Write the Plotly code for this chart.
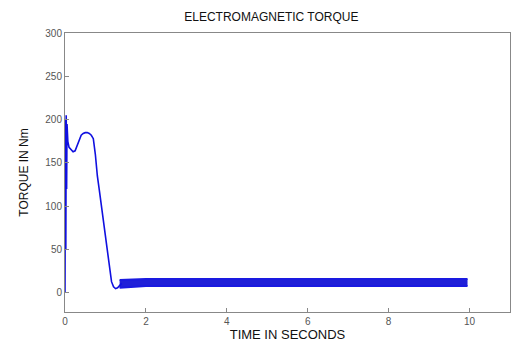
import plotly.graph_objects as go

# Transient part of the electromagnetic torque
t_transient = [0, 0.01, 0.02, 0.03, 0.04, 0.05, 0.07, 0.1, 0.15, 0.2, 0.25, 0.3, 0.35,
               0.4, 0.45, 0.5, 0.55, 0.6, 0.65, 0.7, 0.75, 0.78, 0.8, 0.85, 0.9, 0.95,
               1.0, 1.05, 1.1, 1.15, 1.2, 1.25, 1.3, 1.35, 1.4]
torque_transient = [0, 200, 50, 205, 120, 195, 175, 168, 165, 163, 164, 170, 177,
                    182, 184, 185, 185, 184, 182, 178, 160, 142, 135, 118, 100, 83,
                    65, 45, 25, 13, 7, 5, 6, 9, 11]

# Steady-state band (dense ripple between lower and upper levels)
t_steady = [1.35, 2, 3, 4, 5, 6, 7, 8, 9, 9.95]
torque_upper = [15, 16, 16, 16, 16, 16, 16, 16, 16, 16]
torque_lower = [6, 8, 8, 8, 8, 8, 8, 8, 8, 8]

x_ticks = [0, 2, 4, 6, 8, 10]
y_ticks = [0, 50, 100, 150, 200, 250, 300]

fig = go.Figure()
fig.add_trace(go.Scatter(x=t_steady, y=torque_lower, mode="lines",
                         line=dict(color="#1a1ae0", width=2), showlegend=False))
fig.add_trace(go.Scatter(x=t_steady, y=torque_upper, mode="lines", fill="tonexty",
                         fillcolor="#2020d8",
                         line=dict(color="#1a1ae0", width=2), showlegend=False))
fig.add_trace(go.Scatter(x=t_transient, y=torque_transient, mode="lines",
                         line=dict(color="#1010e0", width=1.6), showlegend=False))

axis_common = dict(showline=True, linecolor="#888888", linewidth=1, mirror=True,
                   ticks="inside", ticklen=4, tickcolor="#888888", showgrid=False,
                   zeroline=False, tickfont=dict(family="Liberation Sans, Arial", size=10, color="#555555"))

fig.update_layout(
    width=512, height=345,
    margin=dict(l=65, r=2, t=33, b=33),
    paper_bgcolor="white", plot_bgcolor="white",
    title=dict(text="ELECTROMAGNETIC TORQUE", x=0.53, xanchor="center", y=0.95, yanchor="middle",
               font=dict(family="Liberation Sans, Arial", size=12, color="#111111")),
    xaxis=dict(range=[0, 11], tickvals=x_ticks,
               title=dict(text="TIME IN SECONDS", standoff=2,
                          font=dict(family="Liberation Sans, Arial", size=13, color="#111111")),
               **axis_common),
    yaxis=dict(range=[-22, 300], tickvals=y_ticks,
               title=dict(text="TORQUE IN Nm", standoff=14,
                          font=dict(family="Liberation Sans, Arial", size=12, color="#111111")),
               **axis_common),
)

fig.write_html("out.html")
